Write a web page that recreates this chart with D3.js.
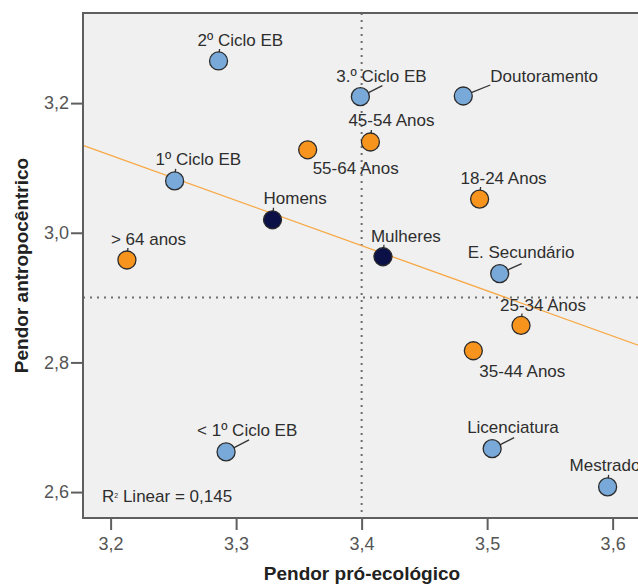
<!DOCTYPE html>
<html>
<head>
<meta charset="utf-8">
<script src="https://cdn.jsdelivr.net/npm/d3@7"></script>
<style>
    body { margin: 0; background: #fff; }
    svg { display: block; font-family: "Liberation Sans", Arial, sans-serif; }
</style>
</head>
<body>
<div id="chart"></div>
<script>
// groups shown in the chart
const names = ["2º Ciclo EB", "3.º Ciclo EB", "Doutoramento", "45-54 Anos", "55-64 Anos",
    "18-24 Anos", "1º Ciclo EB", "Homens", "> 64 anos", "Mulheres", "E. Secundário",
    "25-34 Anos", "35-44 Anos", "< 1º Ciclo EB", "Licenciatura", "Mestrado"];
const groups = ["educ", "educ", "educ", "age", "age",
    "age", "educ", "sex", "age", "sex", "educ",
    "age", "age", "educ", "educ", "educ"];
const proEco = [3.286, 3.399, 3.481, 3.407, 3.357,
    3.494, 3.251, 3.329, 3.213, 3.417, 3.510,
    3.527, 3.489, 3.292, 3.504, 3.596];
const antropo = [3.265, 3.210, 3.211, 3.140, 3.128,
    3.052, 3.080, 3.020, 2.958, 2.963, 2.937,
    2.857, 2.818, 2.662, 2.667, 2.608];

const xTicks = [3.2, 3.3, 3.4, 3.5, 3.6];
const yTicks = [2.6, 2.8, 3.0, 3.2];
const refX = 3.4;
const refY = 2.9;
const r2Text = "0,145";

// label placement: text start / baseline relative to the point, and leader end
const labelLayout = {
    "2º Ciclo EB": [-21, -15, 1, -12],
    "3.º Ciclo EB": [-24, -15, 22, -11],
    "Doutoramento": [27, -14, 27, -11],
    "45-54 Anos": [-22, -16, 1, -12],
    "55-64 Anos": [5, 24, 0, 0],
    "18-24 Anos": [-19, -15, 1, -12],
    "1º Ciclo EB": [-19, -16, 1, -12],
    "Homens": [-9, -16, 1, -12],
    "> 64 anos": [-16, -15, 1, -12],
    "Mulheres": [-12, -15, 1, -12],
    "E. Secundário": [-32, -16, 22, -10],
    "25-34 Anos": [-21, -14, 1, -12],
    "35-44 Anos": [6, 26, 0, 0],
    "< 1º Ciclo EB": [-29, -16, 23, -12],
    "Licenciatura": [-25, -16, 22, -11],
    "Mestrado": [-38, -16, 1, -12]
};

const colors = { educ: "#78a9d9", age: "#f7941d", sex: "#0b1047" };

const width = 638, height = 584;
const margin = { top: 13, right: -3, bottom: 66, left: 83 };

const points = names.map((n, i) => ({ name: n, group: groups[i], x: proEco[i], y: antropo[i] }));

const x = d3.scaleLinear()
    .domain([3.178, 3.6226])
    .range([margin.left, width - margin.right]);
const y = d3.scaleLinear()
    .domain([2.56, 3.339])
    .range([height - margin.bottom, margin.top]);

const svg = d3.select("#chart").append("svg")
    .attr("width", width)
    .attr("height", height);

// plot background
svg.append("rect")
    .attr("x", x.range()[0])
    .attr("y", y.range()[1])
    .attr("width", x.range()[1] - x.range()[0])
    .attr("height", y.range()[0] - y.range()[1])
    .attr("fill", "#f0f0f0");

// reference lines
svg.append("line")
    .attr("x1", x(refX)).attr("x2", x(refX))
    .attr("y1", y.range()[1]).attr("y2", y.range()[0])
    .attr("stroke", "#6e6e6e")
    .attr("stroke-width", 2)
    .attr("stroke-dasharray", "2,5");
svg.append("line")
    .attr("x1", x.range()[0]).attr("x2", x.range()[1])
    .attr("y1", y(refY)).attr("y2", y(refY))
    .attr("stroke", "#6e6e6e")
    .attr("stroke-width", 2)
    .attr("stroke-dasharray", "2,5");

// linear fit
const mx = d3.mean(points, d => d.x), my = d3.mean(points, d => d.y);
const slope = d3.sum(points, d => (d.x - mx) * (d.y - my)) / d3.sum(points, d => (d.x - mx) ** 2);
const fit = v => my + slope * (v - mx);
svg.append("line")
    .attr("x1", x(x.domain()[0])).attr("y1", y(fit(x.domain()[0])))
    .attr("x2", x(x.domain()[1])).attr("y2", y(fit(x.domain()[1])))
    .attr("stroke", "#f7a845")
    .attr("stroke-width", 1.3);

// frame
svg.append("rect")
    .attr("x", x.range()[0])
    .attr("y", y.range()[1])
    .attr("width", x.range()[1] - x.range()[0])
    .attr("height", y.range()[0] - y.range()[1])
    .attr("fill", "none")
    .attr("stroke", "#5f5f5f")
    .attr("stroke-width", 2);

// axes
const xAxis = svg.append("g")
    .attr("transform", `translate(0,${y.range()[0]})`)
    .call(d3.axisBottom(x).tickValues(xTicks).tickSize(12).tickPadding(7)
        .tickFormat(d => d3.format(".1f")(d).replace(".", ",")));
const yAxis = svg.append("g")
    .attr("transform", `translate(${x.range()[0]},0)`)
    .call(d3.axisLeft(y).tickValues(yTicks).tickSize(12).tickPadding(2)
        .tickFormat(d => d3.format(".1f")(d).replace(".", ",")));
[xAxis, yAxis].forEach(a => {
    a.select(".domain").remove();
    a.selectAll(".tick line").attr("stroke", "#5f5f5f").attr("stroke-width", 2);
    a.selectAll(".tick text")
        .attr("fill", "#555")
        .attr("font-size", 18)
        .attr("font-family", "Liberation Sans, Arial, sans-serif");
});

// axis titles
svg.append("text")
    .attr("x", (x.range()[0] + x.range()[1]) / 2)
    .attr("y", 580)
    .attr("text-anchor", "middle")
    .attr("font-size", 19)
    .attr("font-weight", "bold")
    .attr("fill", "#222")
    .text("Pendor pró-ecológico");
svg.append("text")
    .attr("transform", `translate(28,${(y.range()[0] + y.range()[1]) / 2}) rotate(-90)`)
    .attr("text-anchor", "middle")
    .attr("font-size", 19)
    .attr("font-weight", "bold")
    .attr("fill", "#222")
    .text("Pendor antropocêntrico");

// leaders
const rad = 9;
svg.append("g")
    .selectAll("line")
    .data(points.filter(d => labelLayout[d.name][2] || labelLayout[d.name][3]))
    .join("line")
    .attr("x1", d => {
        const l = labelLayout[d.name], len = Math.hypot(l[2], l[3]);
        return x(d.x) + l[2] / len * (rad - 1);
    })
    .attr("y1", d => {
        const l = labelLayout[d.name], len = Math.hypot(l[2], l[3]);
        return y(d.y) + l[3] / len * (rad - 1);
    })
    .attr("x2", d => x(d.x) + labelLayout[d.name][2])
    .attr("y2", d => y(d.y) + labelLayout[d.name][3])
    .attr("stroke", "#333")
    .attr("stroke-width", 1.3);

// points
svg.append("g")
    .selectAll("circle")
    .data(points)
    .join("circle")
    .attr("cx", d => x(d.x))
    .attr("cy", d => y(d.y))
    .attr("r", rad)
    .attr("fill", d => colors[d.group])
    .attr("stroke", "#2b2b2b")
    .attr("stroke-width", 1.3);

// labels
svg.append("g")
    .selectAll("text")
    .data(points)
    .join("text")
    .attr("x", d => x(d.x) + labelLayout[d.name][0])
    .attr("y", d => y(d.y) + labelLayout[d.name][1])
    .attr("font-size", 17)
    .attr("fill", "#2e2e2e")
    .text(d => d.name);

// fit annotation
const r2 = svg.append("text")
    .attr("x", 102)
    .attr("y", 502)
    .attr("font-size", 17)
    .attr("fill", "#2e2e2e");
r2.append("tspan").text("R");
r2.append("tspan").attr("font-size", 7).attr("dy", -4).text("2");
r2.append("tspan").attr("dy", 4).text(" Linear = " + r2Text);
</script>
</body>
</html>
